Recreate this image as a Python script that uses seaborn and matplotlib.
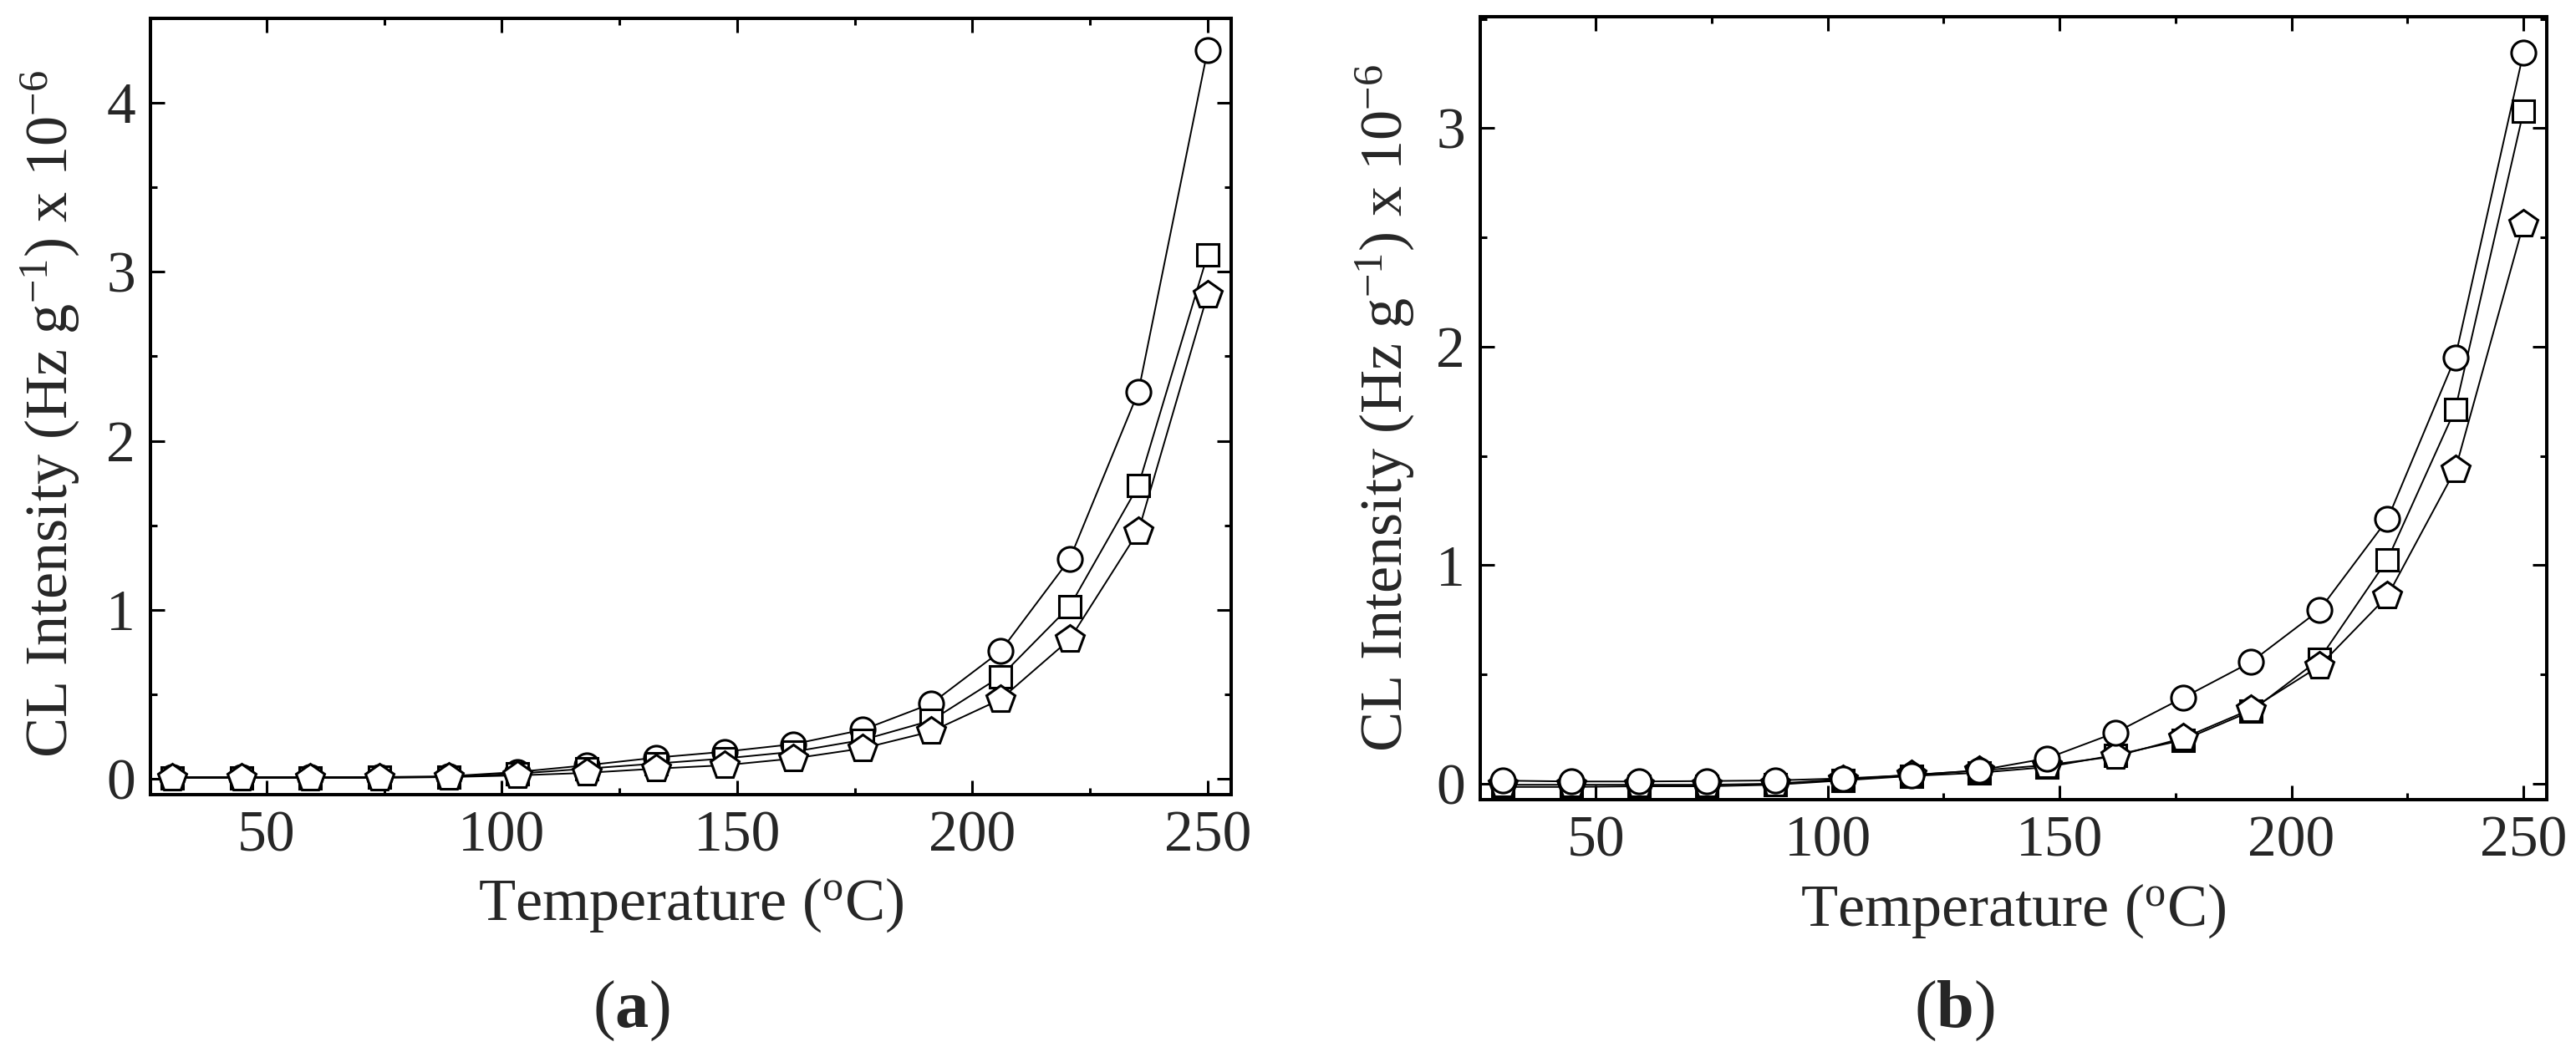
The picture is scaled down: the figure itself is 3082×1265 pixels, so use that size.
import numpy as np
import pandas as pd
import seaborn as sns
import matplotlib.pyplot as plt
from matplotlib.ticker import MultipleLocator

# temperatures (deg C), same for both panels
temps = [30, 44.7, 59.3, 74, 88.7, 103.3, 118, 132.7, 147.3, 162, 176.7, 191.3, 206, 220.7, 235.3, 250]

# panel (a)
a_circle = [0.01, 0.01, 0.01, 0.01, 0.015, 0.04, 0.08, 0.125, 0.16, 0.205, 0.29, 0.445, 0.755, 1.30, 2.29, 4.31]
a_square = [0.005, 0.005, 0.005, 0.01, 0.01, 0.03, 0.06, 0.09, 0.12, 0.16, 0.23, 0.345, 0.605, 1.02, 1.735, 3.10]
a_pentagon = [0.005, 0.005, 0.005, 0.005, 0.01, 0.02, 0.035, 0.06, 0.08, 0.12, 0.18, 0.28, 0.47, 0.825, 1.465, 2.865]

# panel (b)
b_circle = [0.014, 0.01, 0.01, 0.012, 0.015, 0.024, 0.039, 0.061, 0.116, 0.233, 0.394, 0.557, 0.794, 1.21, 1.95, 3.345]
b_square = [-0.015, -0.015, -0.012, -0.012, -0.005, 0.015, 0.035, 0.05, 0.076, 0.131, 0.20, 0.332, 0.569, 1.026, 1.713, 3.076]
b_pentagon = [-0.005, -0.005, -0.005, -0.005, 0.0, 0.02, 0.04, 0.06, 0.085, 0.125, 0.209, 0.341, 0.538, 0.859, 1.436, 2.561]

sns.set_style('ticks')
plt.rcParams['font.family'] = ['Liberation Serif', 'DejaVu Serif']
plt.rcParams['mathtext.fontset'] = 'custom'
plt.rcParams['mathtext.rm'] = 'Liberation Serif'
plt.rcParams['mathtext.it'] = 'Liberation Serif:italic'
plt.rcParams['mathtext.bf'] = 'Liberation Serif:bold'

fig = plt.figure(figsize=(30.82, 12.65), dpi=100)
ax1 = fig.add_axes([0.0584, 0.2482, 0.4195, 0.7344])
ax2 = fig.add_axes([0.5746, 0.2435, 0.4140, 0.7407])

marker_style = {
    'o': dict(marker='o', markersize=21),
    's': dict(marker='s', markersize=19),
    'p': dict(marker='p', markersize=25),
}


def draw(ax, series):
    for vals, m in series:
        sns.lineplot(x=temps, y=vals, ax=ax, color='black', linewidth=1.4,
                     markerfacecolor='white', markeredgecolor='black',
                     markeredgewidth=2.2, estimator=None, sort=False,
                     **marker_style[m])


draw(ax1, [(a_circle, 'o'), (a_square, 's'), (a_pentagon, 'p')])
draw(ax2, [(b_square, 's'), (b_pentagon, 'p'), (b_circle, 'o')])

ax1.set_xlim(25.3, 255)
ax1.set_ylim(-0.094, 4.5)
ax2.set_xlim(25.1, 255)
ax2.set_ylim(-0.073, 3.51)

ylab = 'CL Intensity (Hz g$^{-1}$) x 10$^{-6}$'
xlab = 'Temperature ($^{\\mathregular{o}}$C)'

for ax in (ax1, ax2):
    ax.xaxis.set_major_locator(MultipleLocator(50))
    ax.xaxis.set_minor_locator(MultipleLocator(25))
    ax.yaxis.set_major_locator(MultipleLocator(1))
    ax.yaxis.set_minor_locator(MultipleLocator(0.5))
    ax.tick_params(which='both', direction='in', top=True, right=True,
                   width=2.2, color='black')
    ax.tick_params(which='major', length=12, labelsize=50)
    ax.tick_params(which='minor', length=6)
    ax.tick_params(axis='x', which='major', pad=14)
    ax.tick_params(axis='y', which='major', pad=13)
    for sp in ax.spines.values():
        sp.set_linewidth(2.9)
        sp.set_color('black')
    ax.set_xlabel(xlab, fontsize=52)
    ax.set_ylabel(ylab, fontsize=52)
    ax.xaxis.set_label_coords(0.5, -0.105)

ax1.yaxis.set_label_coords(-0.0634, 0.49)
ax2.yaxis.set_label_coords(-0.0596, 0.50)

fig.text(0.245, 0.0435, '($\\mathbf{a}$)', fontsize=58, ha='center', va='center')
fig.text(0.7586, 0.0435, '($\\mathbf{b}$)', fontsize=58, ha='center', va='center')

fig.savefig('out.png', dpi=100, facecolor='white')
